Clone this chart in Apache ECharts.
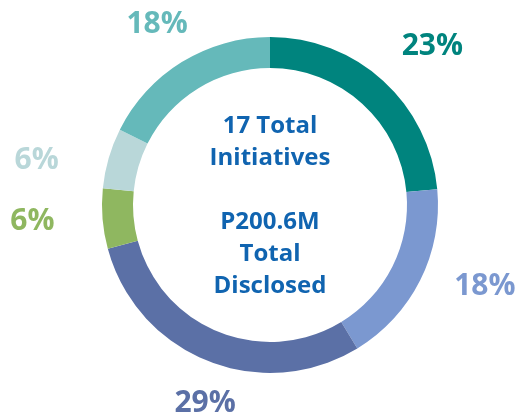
<!DOCTYPE html>
<html>
<head>
<meta charset="utf-8">
<script src="https://cdn.jsdelivr.net/npm/echarts@6/dist/echarts.min.js"></script>
<style>html,body{margin:0;padding:0;background:#fff}#c{width:526px;height:418px}</style>
</head>
<body>
<div id="c"></div>
<script>
// Slice shares (clockwise from 12 o'clock)
const values = [23.5, 17.8, 29.5, 5.8, 5.8, 17.6];
const labels = ['23%', '18%', '29%', '6%', '6%', '18%'];
const colors = ['#00847e', '#7b98d0', '#5b70a6', '#8fb760', '#b9d7d9', '#65b9ba'];
const centerLines = ['17 Total', 'Initiatives', '', 'P200.6M', 'Total', 'Disclosed'];

// layout
const CX = 270, CY = 205;
const labelRadius = [228, 229, 207, 238, 238, 215];
const labelAngleShift = [3.1, -6.4, -3.5, 1.1, -4.8, 0];

const total = values.reduce((a, b) => a + b, 0);
const mids = [];
let acc = 0;
values.forEach(v => { mids.push((acc + v / 2) / total * 360); acc += v; });

const chart = echarts.init(document.getElementById('c'));
chart.setOption({
  animation: false,
  series: [{
    type: 'pie',
    center: [CX, CY],
    radius: [137, 168],
    startAngle: 90,
    clockwise: true,
    avoidLabelOverlap: false,
    itemStyle: { borderWidth: 0 },
    emphasis: { disabled: true },
    label: {
      show: true,
      position: 'outside',
      formatter: p => labels[p.dataIndex],
      fontFamily: 'Open Sans',
      fontWeight: 'bold',
      fontSize: 30
    },
    labelLine: { show: false },
    labelLayout: function (p) {
      const i = p.dataIndex;
      const a = (mids[i] + labelAngleShift[i]) * Math.PI / 180;
      const r = labelRadius[i];
      return {
        x: CX + r * Math.sin(a),
        y: CY - r * Math.cos(a) + 2,
        align: 'center',
        verticalAlign: 'middle'
      };
    },
    data: values.map((v, i) => ({
      value: v,
      itemStyle: { color: colors[i] },
      label: { color: colors[i] }
    }))
  }],
  graphic: [{
    type: 'text',
    x: CX,
    y: CY + 1,
    style: {
      text: centerLines.join('\n'),
      fill: '#1064b0',
      font: 'bold 24px "Open Sans"',
      lineHeight: 32,
      align: 'center',
      verticalAlign: 'middle'
    }
  }]
});
</script>
</body>
</html>
